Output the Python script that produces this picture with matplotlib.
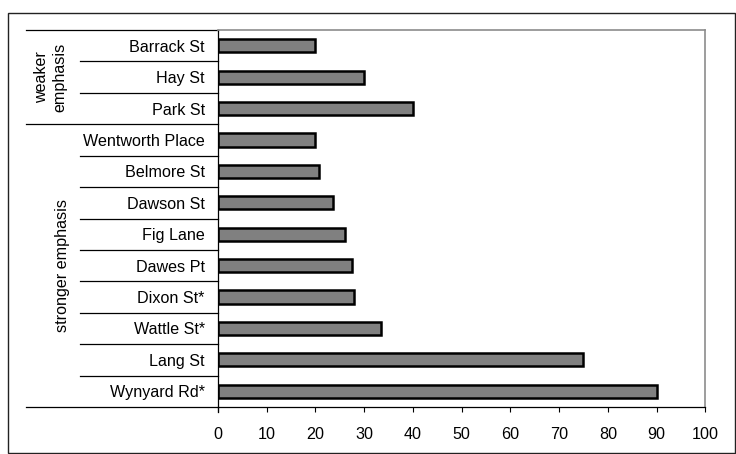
import matplotlib.pyplot as plt
from matplotlib.patches import Rectangle

# street names, top to bottom as drawn
streets = ['Barrack St', 'Hay St', 'Park St',
           'Wentworth Place', 'Belmore St', 'Dawson St', 'Fig Lane',
           'Dawes Pt', 'Dixon St*', 'Wattle St*', 'Lang St', 'Wynyard Rd*']
values = [20, 30, 40,
          20, 20.7, 23.6, 26, 27.5, 27.9, 33.4, 75, 90]
groups = ['weaker\nemphasis', 'stronger emphasis']
group_sizes = [3, 9]
xticks = list(range(0, 101, 10))

plt.rcParams['font.family'] = ['Liberation Sans', 'DejaVu Sans']
plt.rcParams['font.size'] = 11.6

fig = plt.figure(figsize=(7.36, 4.54), dpi=100)
ax = fig.add_axes([218 / 736, 47 / 454, (705.3 - 218) / 736, 377 / 454])

pos = list(range(len(streets)))
ax.barh(pos, values, height=0.42, color='#808080', edgecolor='black', linewidth=1.8)

ax.set_ylim(len(streets) - 0.5, -0.5)
ax.set_xlim(0, 100)
ax.set_xticks(xticks)
ax.set_xticklabels([str(t) for t in xticks])
ax.tick_params(axis='x', direction='out', length=3.6, width=0.8, pad=10.5)
ax.set_yticks(pos)
ax.set_yticklabels(streets)
ax.tick_params(axis='y', length=0, pad=9.5)

for side in ['top', 'right']:
    ax.spines[side].set_color('#8c8c8c')
    ax.spines[side].set_linewidth(1.2)
for side in ['left', 'bottom']:
    ax.spines[side].set_color('black')
    ax.spines[side].set_linewidth(0.9)

# separator lines in the label column
tr = ax.get_yaxis_transform()
short_x, long_x = (80 - 218) / 487.3, (26 - 218) / 487.3
boundaries = [-0.5]
for n in group_sizes:
    boundaries.append(boundaries[-1] + n)
for i in range(len(streets) + 1):
    y = i - 0.5
    x0 = long_x if y in boundaries else short_x
    ax.plot([x0, 0], [y, y], transform=tr, color='black', lw=0.9, clip_on=False)
# little stub below the axis corner
ax.plot([0, 0], [len(streets) - 0.5, len(streets) - 0.34], color='black', lw=0.9, clip_on=False)

# group labels
for k, g in enumerate(groups):
    mid = (boundaries[k] + boundaries[k + 1]) / 2
    gx = (51 - 218) / 487.3 if k == 0 else (62 - 218) / 487.3
    ax.text(gx, mid, g, transform=tr, rotation=90, ha='center', va='center',
            linespacing=1.3)

# outer border of the chart
fig.patches.append(Rectangle((8 / 736, 1 / 454), 727 / 736, 440 / 454,
                             transform=fig.transFigure, fill=False,
                             edgecolor='#222222', linewidth=1.0))

fig.savefig('out.png', dpi=100)
